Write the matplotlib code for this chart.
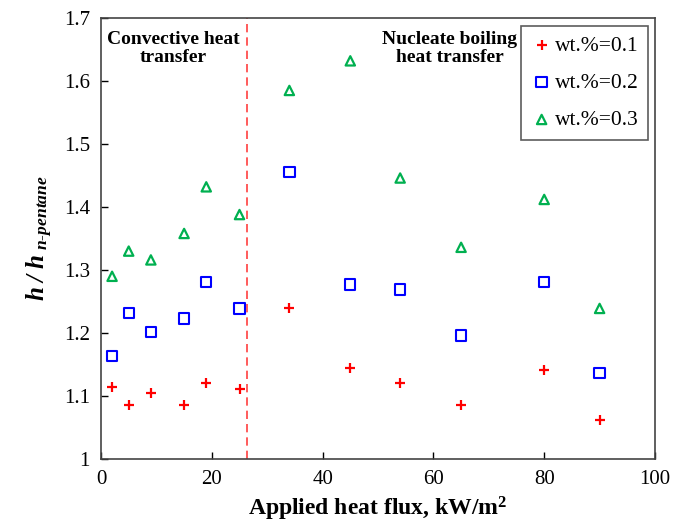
import matplotlib
matplotlib.use("Agg")
import matplotlib.pyplot as plt
import matplotlib.ticker as ticker

# heat flux (kW/m2) and h / h_n-pentane ratio for each concentration
flux = [2, 5, 9, 15, 19, 25, 34, 45, 54, 65, 80, 90]
wt01 = [1.115, 1.085, 1.105, 1.085, 1.121, 1.111, 1.239, 1.145, 1.120, 1.085, 1.142, 1.062]
wt02 = [1.163, 1.232, 1.202, 1.223, 1.281, 1.239, 1.456, 1.277, 1.269, 1.196, 1.281, 1.137]
wt03 = [1.290, 1.330, 1.316, 1.358, 1.432, 1.388, 1.585, 1.632, 1.446, 1.336, 1.412, 1.239]
labels = ["wt.%=0.1", "wt.%=0.2", "wt.%=0.3"]
boundary = 26.3

plt.rcParams["font.family"] = ["Liberation Serif", "DejaVu Serif"]
plt.rcParams["mathtext.fontset"] = "custom"
plt.rcParams["mathtext.rm"] = "Liberation Serif"
plt.rcParams["mathtext.it"] = "Liberation Serif:italic"
plt.rcParams["mathtext.bf"] = "Liberation Serif:bold"
plt.rcParams["mathtext.bfit"] = "Liberation Serif:italic:bold"

fig = plt.figure(figsize=(6.73, 5.29), dpi=100)
ax = fig.add_axes([101 / 673, 1 - 459 / 529, (655 - 101) / 673, (459 - 18) / 529])

ax.scatter(flux, wt01, marker="+", s=45, color="red", linewidths=1.6, label=labels[0])
ax.scatter(flux, wt02, marker="s", s=55, facecolors="none", edgecolors="blue",
           linewidths=1.5, label=labels[1])
ax.scatter(flux, wt03, marker="^", s=45, facecolors="none", edgecolors="#00b050",
           linewidths=1.6, label=labels[2])

ax.axvline(boundary, color="#ff4040", linestyle=(0, (5, 3)), linewidth=1.2)

ax.text(13, 1.68, "Convective heat\ntransfer", ha="center", va="top",
        fontsize=14, fontweight="bold", linespacing=1.1)
ax.text(63, 1.68, "Nucleate boiling\nheat transfer", ha="center", va="top",
        fontsize=14, fontweight="bold", linespacing=1.1)

ax.set_xlim(0, 100)
ax.set_ylim(1, 1.7)
ax.xaxis.set_major_locator(ticker.MultipleLocator(20))
ax.yaxis.set_major_locator(ticker.MultipleLocator(0.1))
ax.yaxis.set_major_formatter(ticker.FuncFormatter(lambda v, p: f"{v:g}"))
ax.tick_params(direction="in", length=5, width=1, labelsize=15, pad=8)
for sp in ax.spines.values():
    sp.set_color("#444444")
    sp.set_linewidth(1.2)

ax.set_xlabel("Applied heat flux, kW/m$^\\mathbf{2}$", fontsize=17,
              fontweight="bold", labelpad=4)
ax.set_ylabel("$\\mathbfit{h\\ /\\ h}_{\\ \\mathbfit{n\\text{-}pentane}}$", fontsize=18,
              labelpad=6)

leg = ax.legend(loc="upper right", bbox_to_anchor=(0.999, 0.997), fontsize=15.5,
                frameon=True, fancybox=False, handletextpad=0.1, borderpad=0.45,
                labelspacing=0.8, handlelength=1.0, borderaxespad=0.3)
leg.get_frame().set_edgecolor("#333333")
leg.get_frame().set_linewidth(1.2)

plt.savefig("out.png", dpi=100)
